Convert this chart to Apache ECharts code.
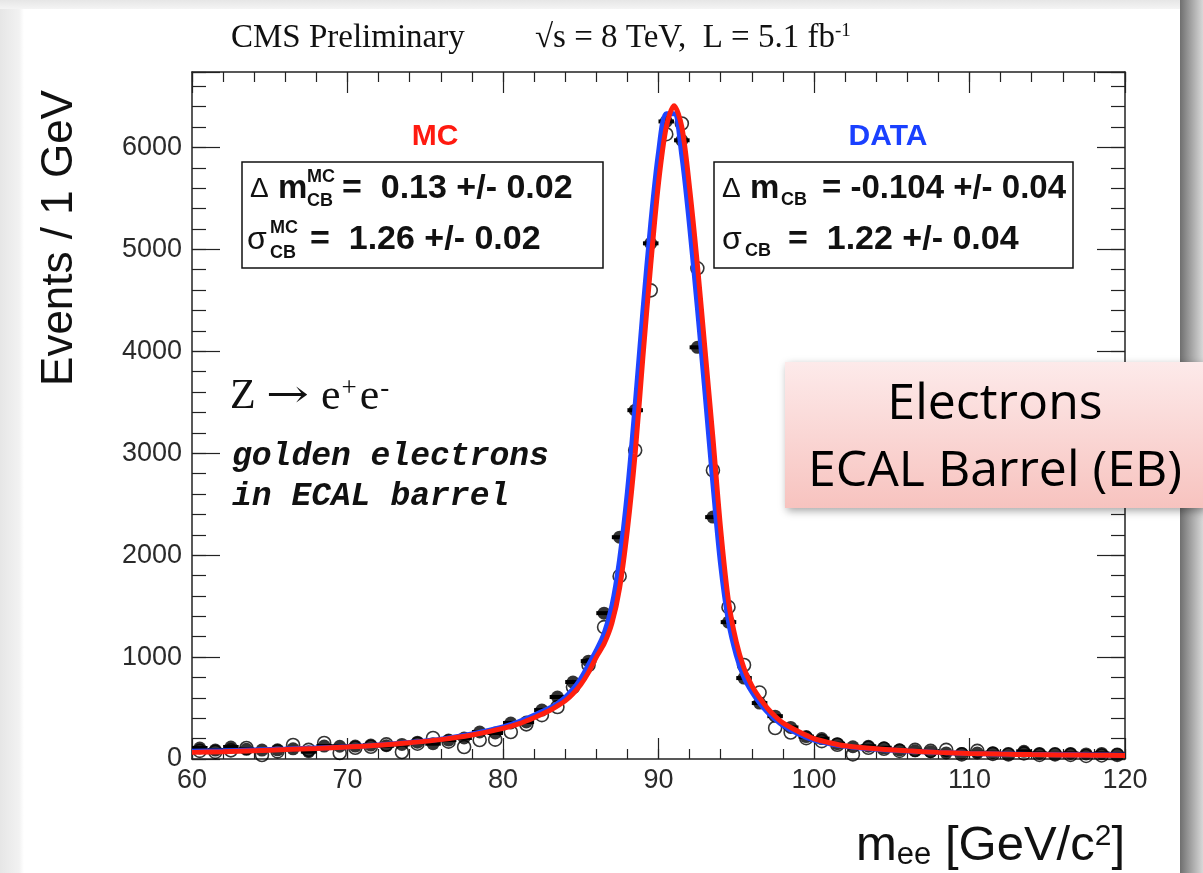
<!DOCTYPE html>
<html><head><meta charset="utf-8">
<script src="https://cdn.jsdelivr.net/npm/echarts@6/dist/echarts.min.js"></script>
<style>html,body{margin:0;padding:0;background:#fff}#c{width:1203px;height:873px}</style>
</head><body><div id="c"></div>
<script>
// ---- data ----
const binCenters = [60.5,61.5,62.5,63.5,64.5,65.5,66.5,67.5,68.5,69.5,70.5,71.5,72.5,73.5,74.5,75.5,76.5,77.5,78.5,79.5,80.5,81.5,82.5,83.5,84.5,85.5,86.5,87.5,88.5,89.5,90.5,91.5,92.5,93.5,94.5,95.5,96.5,97.5,98.5,99.5,100.5,101.5,102.5,103.5,104.5,105.5,106.5,107.5,108.5,109.5,110.5,111.5,112.5,113.5,114.5,115.5,116.5,117.5,118.5,119.5];
// filled black markers
const dataCounts = [108,88,118,95,88,90,100,72,127,125,127,137,130,143,165,150,186,206,265,255,353,363,480,608,755,960,1431,2176,3422,5059,6255,6070,4039,2373,1343,794,549,420,310,220,200,150,120,125,110,90,80,72,60,55,60,62,50,75,55,50,55,50,55,45];
// open markers
const mcCounts = [80,70,85,108,39,75,137,90,157,59,110,120,143,69,150,206,170,118,186,190,265,340,430,510,706,922,1294,1794,3029,4598,6130,6235,4814,2833,1490,922,652,304,260,205,175,140,45,110,100,80,90,80,90,45,80,50,45,55,40,45,40,30,35,40];
// fitted curves
const fitX    = [60,62,64,66,68,70,72,74,76,78,80,81,82,83,83.5,84,84.5,85,85.5,86,86.5,87,87.5,88,88.5,89,89.5,90,90.5,91,91.5,92,92.5,93,93.5,94,94.5,95,95.5,96,96.5,97,97.5,98,99,100,101,102,104,106,108,110,112,114,116,118,120];
const fitData = [75,80,88,97,108,120,138,163,195,245,315,365,430,500,545,605,685,790,925,1065,1230,1500,1960,2620,3470,4400,5250,5950,6330,6330,5920,5230,4430,3580,2700,1900,1350,1020,800,660,550,460,390,330,245,185,150,125,95,78,65,55,50,45,42,40,38];
const fitMC   = [65,72,82,92,104,118,135,160,190,235,300,345,405,475,520,570,640,730,850,1000,1130,1330,1680,2250,3000,3950,4850,5650,6200,6410,6200,5600,4850,4000,3150,2250,1550,1150,890,720,600,500,420,355,270,200,160,130,100,80,65,55,48,43,40,37,35];
const xTickLabels = [60,70,80,90,100,110,120];
const yTickLabels = [0,1000,2000,3000,4000,5000,6000];

const RED = '#ff1f0f', BLUE = '#1f45ff';
const pair = (xs, ys) => xs.map((x, i) => [x, ys[i]]);

const FRAME = {show:true, onZero:false, lineStyle:{color:'#222', width:1.5}};
const AX_FONT = 'Liberation Sans';

function xAx(pos, interval, len, frame, labels) {
  return {type:'value', min:60, max:120, interval, position:pos,
    axisLine:frame ? FRAME : {show:false, onZero:false},
    axisTick:{show:true, inside:true, length:len, lineStyle:{color:'#222', width:1.2}},
    axisLabel: labels ? {show:true, margin:8, fontFamily:AX_FONT, fontSize:27, color:'#2a2a2a',
      formatter: v => xTickLabels.includes(v) ? String(v) : ''} : {show:false},
    splitLine:{show:false}};
}
function yAx(pos, interval, len, frame, labels) {
  return {type:'value', min:0, max:6740, interval, position:pos,
    axisLine:frame ? FRAME : {show:false, onZero:false},
    axisTick:{show:true, inside:true, length:len, lineStyle:{color:'#222', width:1.2}},
    axisLabel: labels ? {show:true, margin:10, fontFamily:AX_FONT, fontSize:27, color:'#2a2a2a',
      formatter: v => yTickLabels.includes(v) ? String(v) : ''} : {show:false},
    splitLine:{show:false}};
}

const chart = echarts.init(document.getElementById('c'), null, {renderer:'canvas'});

const txt = (x, y, text, font, extra) => ({type:'text', x, y, z:100,
  style:Object.assign({text, font, fill:'#111', textVerticalAlign:'middle'}, extra||{})});

const option = {
  backgroundColor:'#ffffff',
  animation:false,
  grid:{left:192, top:72, width:933, height:687, containLabel:false},
  xAxis:[ xAx('bottom',10,21,true,true), xAx('bottom',2,10,false,false), xAx('top',10,21,true,false), xAx('top',2,10,false,false) ],
  yAxis:[ yAx('left',1000,28,true,true), yAx('left',200,14,false,false), yAx('right',1000,28,true,false), yAx('right',200,14,false,false) ],
  series:[
    {type:'custom', name:'binwidth', xAxisIndex:0, yAxisIndex:0, z:2,
     data: pair(binCenters, dataCounts),
     renderItem:(params, api) => {
       const a = api.coord([api.value(0)-0.5, api.value(1)]);
       const b = api.coord([api.value(0)+0.5, api.value(1)]);
       return {type:'line', shape:{x1:a[0], y1:a[1], x2:b[0], y2:b[1]}, style:{stroke:'#000', lineWidth:4}};
     }},
    {type:'scatter', name:'MC', xAxisIndex:0, yAxisIndex:0, z:3, symbol:'circle', symbolSize:13,
     itemStyle:{color:'rgba(255,255,255,0)', borderColor:'#000', borderWidth:1.6},
     data: pair(binCenters, mcCounts)},
    {type:'scatter', name:'DATA', xAxisIndex:0, yAxisIndex:0, z:4, symbol:'circle', symbolSize:13,
     itemStyle:{color:'#000'},
     data: pair(binCenters, dataCounts)},
    {type:'line', name:'fit DATA', xAxisIndex:0, yAxisIndex:0, z:5, smooth:0.3, showSymbol:false,
     lineStyle:{color:BLUE, width:5}, data: pair(fitX, fitData)},
    {type:'line', name:'fit MC', xAxisIndex:0, yAxisIndex:0, z:6, smooth:0.3, showSymbol:false,
     lineStyle:{color:RED, width:5}, data: pair(fitX, fitMC)}
  ],
  graphic:[
    // slide frame shading
    {type:'rect', shape:{x:0, y:0, width:24, height:873}, z:0, silent:true,
     style:{fill:new echarts.graphic.LinearGradient(0,0,1,0,[{offset:0,color:'#e6e6e6'},{offset:0.8,color:'#f2f2f2'},{offset:1,color:'#ffffff'}])}},
    {type:'rect', shape:{x:0, y:0, width:1203, height:9}, z:0, silent:true,
     style:{fill:new echarts.graphic.LinearGradient(0,0,0,1,[{offset:0,color:'#e6e6e6'},{offset:1,color:'#f4f4f4'}])}},
    {type:'rect', shape:{x:1180, y:0, width:23, height:873}, z:0, silent:true,
     style:{fill:new echarts.graphic.LinearGradient(0,0,1,0,[{offset:0,color:'#6f6f6f'},{offset:0.5,color:'#a5a5a5'},{offset:1,color:'#d8d8d8'}])}},
    // header
    txt(231, 38, 'CMS Preliminary', '33px "Liberation Serif"'),
    {type:'text', x:535, y:38, z:100, style:{text:'{a|√s = 8 TeV,  L = 5.1 fb}{s|-1}', textVerticalAlign:'middle',
      rich:{a:{font:'33px "Liberation Serif"', fill:'#111'}, s:{font:'19px "Liberation Serif"', fill:'#111', verticalAlign:'top'}}}},
    // axis titles
    {type:'text', x:60, y:238, rotation:Math.PI/2, z:100,
     style:{text:'Events / 1 GeV', font:'44px "Liberation Sans"', fill:'#111', textAlign:'center', textVerticalAlign:'middle'}},
    {type:'text', x:1125, y:846, z:100, style:{text:'{a|m}{b|ee}{a| [GeV/c}{s|2}{a|]}', textAlign:'right', textVerticalAlign:'middle',
      rich:{a:{font:'49px "Liberation Sans"', fill:'#111'}, b:{font:'31px "Liberation Sans"', fill:'#111', verticalAlign:'bottom'},
            s:{font:'30px "Liberation Sans"', fill:'#111', verticalAlign:'top'}}}},
    // MC box
    txt(435, 137, 'MC', 'bold 30px "Liberation Sans"', {fill:'#ff1a10', textAlign:'center'}),
    {type:'rect', z:90, shape:{x:242, y:162, width:361, height:106}, style:{fill:'#fff', stroke:'#111', lineWidth:1.5}},
    txt(250, 189, 'Δ', '28px "Liberation Sans"'),
    txt(278, 189, 'm', 'bold 33px "Liberation Sans"'),
    txt(307, 177, 'MC', 'bold 18px "Liberation Sans"'),
    txt(307, 201, 'CB', 'bold 18px "Liberation Sans"'),
    txt(342, 189, '=  0.13 +/- 0.02', 'bold 34px "Liberation Sans"'),
    txt(247, 240, 'σ', '32px "Liberation Sans"'),
    txt(270, 228, 'MC', 'bold 18px "Liberation Sans"'),
    txt(270, 253, 'CB', 'bold 18px "Liberation Sans"'),
    txt(310, 240, '=  1.26 +/- 0.02', 'bold 34px "Liberation Sans"'),
    // DATA box
    txt(888, 137, 'DATA', 'bold 30px "Liberation Sans"', {fill:'#1a40ff', textAlign:'center'}),
    {type:'rect', z:90, shape:{x:714, y:162, width:359, height:106}, style:{fill:'#fff', stroke:'#111', lineWidth:1.5}},
    txt(722, 189, 'Δ', '28px "Liberation Sans"'),
    txt(750, 189, 'm', 'bold 33px "Liberation Sans"'),
    txt(781, 200, 'CB', 'bold 18px "Liberation Sans"'),
    txt(822, 189, '= -0.104 +/- 0.04', 'bold 33px "Liberation Sans"'),
    txt(722, 240, 'σ', '32px "Liberation Sans"'),
    txt(745, 251, 'CB', 'bold 18px "Liberation Sans"'),
    txt(788, 240, '=  1.22 +/- 0.04', 'bold 34px "Liberation Sans"'),
    // process label
    txt(230, 397, 'Z', '42px "Liberation Serif"'),
    {type:'text', x:266, y:397, scaleX:1.35, z:100, style:{text:'→', font:'38px "DejaVu Serif"', fill:'#111', textVerticalAlign:'middle'}},
    {type:'text', x:321, y:397, z:100, style:{text:'{a|e}{s|+}{a|e}{s|-}', textVerticalAlign:'middle',
      rich:{a:{font:'44px "Liberation Serif"', fill:'#111'}, s:{font:'27px "Liberation Serif"', fill:'#111', verticalAlign:'top', padding:[0,3,0,1]}}}},
    txt(232, 457, 'golden electrons', 'italic bold 33px "Liberation Mono"'),
    txt(232, 497, 'in ECAL barrel', 'italic bold 33px "Liberation Mono"'),
    // Electrons box
    {type:'rect', z:95, shape:{x:785, y:362, width:420, height:146},
     style:{fill:new echarts.graphic.LinearGradient(0,0,0,1,[{offset:0,color:'#fdeaea'},{offset:1,color:'#f7c3bf'}]),
            shadowBlur:8, shadowColor:'rgba(0,0,0,0.35)', shadowOffsetX:2, shadowOffsetY:3}},
    txt(995, 405, 'Electrons', '50px "Open Sans"', {textAlign:'center', fill:'#000', shadowBlur:3, shadowColor:'rgba(0,0,0,0.35)'}),
    txt(995, 472, 'ECAL Barrel (EB)', '50px "Open Sans"', {textAlign:'center', fill:'#000', shadowBlur:3, shadowColor:'rgba(0,0,0,0.35)'})
  ]
};
chart.setOption(option);
</script></body></html>
